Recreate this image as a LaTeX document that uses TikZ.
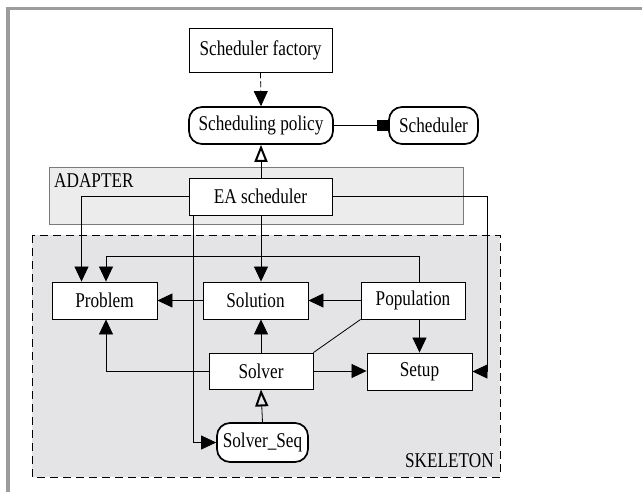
\documentclass[tikz,border=0pt]{standalone}
\usepackage{fontspec}
\setmainfont{Liberation Serif}[FakeStretch=0.82]
\usetikzlibrary{arrows.meta,positioning}
\definecolor{framegray}{HTML}{9C9C9C}
\definecolor{adapterfill}{HTML}{ECECEC}
\definecolor{adapterline}{HTML}{7A7A7A}
\definecolor{skeletonfill}{HTML}{E4E4E6}
\begin{document}
\begin{tikzpicture}[x=1pt,y=-1pt,
  font=\fontsize{21}{24}\selectfont,
  box/.style={draw, fill=white, line width=0.9pt, minimum height=37pt, inner sep=0pt},
  ibox/.style={draw, fill=white, line width=1.7pt, rounded corners=13pt, minimum height=37pt, inner sep=0pt},
  conn/.style={line width=0.8pt},
  arr/.style={conn, -{Triangle[length=15pt,width=14pt]}},
  inherit/.style={line width=0.8pt, -{Triangle[open,length=17pt,width=13pt,line width=2pt]}},
  owns/.style={line width=0.8pt, -{Square[length=11pt,width=11pt]}},
]
\useasboundingbox (0,0) rectangle (642,492);

% page frame
\draw[framegray, line width=3.5pt] (8,492) -- (8,8.3) -- (642,8.3);

% package areas
\draw[adapterline, fill=adapterfill, line width=0.8pt] (49,167) rectangle (463,224);
\node[anchor=base west, inner sep=0pt] (adapterlbl) at (54,187) {ADAPTER};
\draw[fill=skeletonfill, dash pattern=on 8pt off 5pt, line width=0.9pt] (32,235) rectangle (500,477);
\node[anchor=base east, inner sep=0pt] (skeletonlbl) at (494,467) {SKELETON};

% classes
\node[box, minimum width=143pt, minimum height=44pt] (factory) at (260.5,50) {Scheduler factory};
\node[ibox, minimum width=144pt] (policy) at (261,125.5) {Scheduling policy};
\node[ibox, minimum width=89pt] (sched) at (433.5,125.5) {Scheduler};
\node[box, minimum width=143pt] (ea) at (260.5,196.5) {EA scheduler};
\node[box, minimum width=105pt] (problem) at (104.5,300.5) {Problem};
\node[box, minimum width=105pt] (solution) at (255.5,300.5) {Solution};
\node[box, minimum width=104pt] (population) at (413,300.5) {Population};
\node[box, minimum width=104pt, minimum height=36pt] (solver) at (261,371) {Solver};
\node[box, minimum width=105pt] (setup) at (419.5,371.5) {Setup};
\node[ibox, minimum width=91pt, minimum height=39pt] (seq) at (262.5,442.5) {Solver\_Seq};

% relations
\draw[arr, dash pattern=on 6pt off 3pt] (factory.south) -- (policy.north);
\draw[owns] (policy.east) -- (sched.west);
\draw[inherit] (ea.north -| policy.south) -- (policy.south);

\coordinate (rt) at (487,0);
\draw[arr] (ea.west) -| ([xshift=-23pt]problem.north);
\draw[arr] (ea.east) -| (rt |- setup.east) -- (setup.east);
\draw[arr] (ea.south -| solver.north) -- (solver.north |- solution.north);
\draw[arr] ([xshift=5pt]ea.south west) |- (seq.west);

\draw[arr] (setup.north |- population.north) -- ++(0,-25) -| ([xshift=1.5pt]problem.north);
\draw[arr] (solution.west) -- (problem.east);
\draw[arr] (population.west) -- (solution.east);
\draw[arr] (setup.north |- population.south) -- (setup.north);
\draw[conn] (population.south west) -- (solver.north east);

\draw[arr] (solver.north) -- (solver.north |- solution.south);
\draw[arr] (solver.west) -| ([xshift=1.5pt]problem.south);
\draw[arr] (solver.east) -- (solver.east -| setup.west);
\draw[inherit] (seq.north) -- (solver.south);
\end{tikzpicture}
\end{document}
